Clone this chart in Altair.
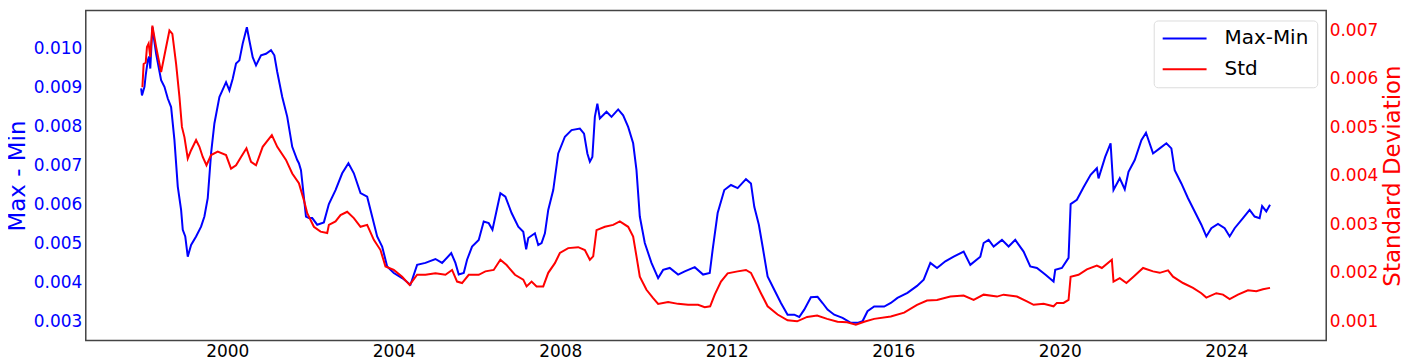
import altair as alt
import pandas as pd

# ---- data ----
maxmin_years = [1997.93, 1997.95, 1998.01, 1998.04, 1998.09, 1998.12, 1998.15, 1998.20, 1998.29, 1998.41,
                1998.49, 1998.57, 1998.65, 1998.73, 1998.81, 1998.89, 1998.93, 1998.99, 1999.05, 1999.13,
                1999.25, 1999.37, 1999.45, 1999.53, 1999.61, 1999.69, 1999.81, 1999.97, 2000.05, 2000.13,
                2000.21, 2000.29, 2000.37, 2000.47, 2000.53, 2000.61, 2000.69, 2000.81, 2000.93, 2001.05,
                2001.13, 2001.20, 2001.32, 2001.44, 2001.56, 2001.68, 2001.72, 2001.77, 2001.89, 2001.96,
                2002.04, 2002.16, 2002.32, 2002.44, 2002.60, 2002.76, 2002.91, 2003.04, 2003.20, 2003.36,
                2003.48, 2003.60, 2003.72, 2003.84, 2004.00, 2004.20, 2004.40, 2004.56, 2004.76, 2005.00,
                2005.16, 2005.38, 2005.48, 2005.56, 2005.68, 2005.76, 2005.88, 2006.04, 2006.16, 2006.28,
                2006.37, 2006.56, 2006.68, 2006.83, 2006.99, 2007.11, 2007.18, 2007.23, 2007.39, 2007.47,
                2007.55, 2007.63, 2007.71, 2007.83, 2007.95, 2008.11, 2008.27, 2008.47, 2008.57, 2008.65,
                2008.71, 2008.77, 2008.83, 2008.89, 2008.95, 2009.11, 2009.23, 2009.39, 2009.51, 2009.63,
                2009.75, 2009.83, 2009.91, 2010.03, 2010.19, 2010.35, 2010.47, 2010.63, 2010.83, 2010.99,
                2011.23, 2011.43, 2011.59, 2011.66, 2011.78, 2011.94, 2012.10, 2012.26, 2012.46, 2012.58,
                2012.66, 2012.77, 2012.86, 2012.98, 2013.14, 2013.30, 2013.46, 2013.62, 2013.74, 2013.86,
                2014.02, 2014.18, 2014.30, 2014.42, 2014.58, 2014.78, 2014.98, 2015.14, 2015.26, 2015.38,
                2015.54, 2015.78, 2015.94, 2016.10, 2016.34, 2016.57, 2016.73, 2016.89, 2017.05, 2017.25,
                2017.45, 2017.69, 2017.85, 2018.09, 2018.17, 2018.29, 2018.41, 2018.61, 2018.77, 2018.93,
                2019.13, 2019.29, 2019.45, 2019.65, 2019.85, 2019.89, 2020.05, 2020.21, 2020.26, 2020.41,
                2020.57, 2020.74, 2020.89, 2020.93, 2021.09, 2021.22, 2021.29, 2021.44, 2021.56, 2021.65,
                2021.80, 2021.96, 2022.07, 2022.24, 2022.40, 2022.56, 2022.68, 2022.76, 2022.92, 2023.08,
                2023.24, 2023.40, 2023.52, 2023.64, 2023.80, 2023.96, 2024.08, 2024.20, 2024.40, 2024.56,
                2024.68, 2024.80, 2024.86, 2024.96, 2025.05]
maxmin_values = [0.00898, 0.00880, 0.00902, 0.00932, 0.00970, 0.00980, 0.00949, 0.01055, 0.00987, 0.00919,
                 0.00902, 0.00872, 0.00850, 0.00765, 0.00646, 0.00586, 0.00535, 0.00518, 0.00466, 0.00496,
                 0.00518, 0.00543, 0.00569, 0.00616, 0.00731, 0.00808, 0.00876, 0.00914, 0.00893, 0.00923,
                 0.00962, 0.00970, 0.01013, 0.01055, 0.01021, 0.00978, 0.00957, 0.00983, 0.00987, 0.00996,
                 0.00983, 0.00940, 0.00876, 0.00825, 0.00748, 0.00714, 0.00706, 0.00688, 0.00569, 0.00565,
                 0.00565, 0.00548, 0.00554, 0.00601, 0.00637, 0.00680, 0.00706, 0.00680, 0.00629, 0.00620,
                 0.00569, 0.00518, 0.00492, 0.00441, 0.00424, 0.00411, 0.00394, 0.00445, 0.00450, 0.00460,
                 0.00450, 0.00475, 0.00450, 0.00420, 0.00424, 0.00458, 0.00492, 0.00509, 0.00556, 0.00552,
                 0.00535, 0.00629, 0.00620, 0.00578, 0.00543, 0.00530, 0.00485, 0.00514, 0.00526, 0.00496,
                 0.00501, 0.00526, 0.00586, 0.00637, 0.00731, 0.00774, 0.00791, 0.00795, 0.00782, 0.00731,
                 0.00710, 0.00722, 0.00825, 0.00859, 0.00821, 0.00838, 0.00825, 0.00844, 0.00829, 0.00799,
                 0.00757, 0.00688, 0.00569, 0.00501, 0.00450, 0.00411, 0.00432, 0.00437, 0.00420, 0.00428,
                 0.00439, 0.00420, 0.00424, 0.00484, 0.00578, 0.00637, 0.00650, 0.00642, 0.00665, 0.00654,
                 0.00594, 0.00548, 0.00492, 0.00415, 0.00381, 0.00347, 0.00317, 0.00317, 0.00311, 0.00330,
                 0.00362, 0.00363, 0.00347, 0.00330, 0.00317, 0.00309, 0.00296, 0.00296, 0.00300, 0.00326,
                 0.00338, 0.00338, 0.00347, 0.00360, 0.00373, 0.00391, 0.00407, 0.00450, 0.00437, 0.00454,
                 0.00466, 0.00479, 0.00445, 0.00466, 0.00501, 0.00509, 0.00492, 0.00509, 0.00492, 0.00509,
                 0.00479, 0.00441, 0.00437, 0.00420, 0.00402, 0.00432, 0.00437, 0.00463, 0.00601, 0.00612,
                 0.00644, 0.00676, 0.00693, 0.00667, 0.00722, 0.00757, 0.00637, 0.00667, 0.00639, 0.00684,
                 0.00714, 0.00765, 0.00784, 0.00731, 0.00744, 0.00757, 0.00744, 0.00688, 0.00654, 0.00616,
                 0.00582, 0.00548, 0.00518, 0.00539, 0.00550, 0.00539, 0.00518, 0.00539, 0.00565, 0.00586,
                 0.00569, 0.00565, 0.00596, 0.00582, 0.00599]

std_years = [1997.96, 1997.99, 1998.04, 1998.07, 1998.11, 1998.15, 1998.20, 1998.29, 1998.41, 1998.53,
             1998.61, 1998.68, 1998.77, 1998.85, 1998.91, 1998.97, 1999.05, 1999.13, 1999.25, 1999.33,
             1999.41, 1999.50, 1999.61, 1999.77, 1999.97, 2000.09, 2000.21, 2000.33, 2000.46, 2000.57,
             2000.69, 2000.85, 2001.07, 2001.20, 2001.41, 2001.56, 2001.72, 2001.84, 2001.92, 2002.08,
             2002.24, 2002.40, 2002.44, 2002.60, 2002.72, 2002.88, 2003.04, 2003.20, 2003.36, 2003.52,
             2003.68, 2003.80, 2004.00, 2004.20, 2004.38, 2004.56, 2004.76, 2005.00, 2005.24, 2005.40,
             2005.52, 2005.64, 2005.80, 2006.04, 2006.20, 2006.40, 2006.56, 2006.71, 2006.91, 2007.11,
             2007.19, 2007.31, 2007.43, 2007.59, 2007.71, 2007.87, 2007.99, 2008.19, 2008.43, 2008.59,
             2008.71, 2008.79, 2008.87, 2009.07, 2009.27, 2009.43, 2009.63, 2009.75, 2009.83, 2009.91,
             2010.07, 2010.23, 2010.35, 2010.59, 2010.83, 2011.07, 2011.31, 2011.47, 2011.60, 2011.71,
             2011.86, 2012.02, 2012.26, 2012.46, 2012.58, 2012.66, 2012.82, 2012.98, 2013.22, 2013.46,
             2013.69, 2013.93, 2014.17, 2014.41, 2014.66, 2014.89, 2015.10, 2015.30, 2015.54, 2015.94,
             2016.26, 2016.57, 2016.81, 2017.05, 2017.37, 2017.69, 2017.93, 2018.17, 2018.49, 2018.65,
             2018.97, 2019.21, 2019.37, 2019.61, 2019.85, 2019.93, 2020.09, 2020.21, 2020.26, 2020.45,
             2020.65, 2020.89, 2021.01, 2021.25, 2021.29, 2021.44, 2021.60, 2021.77, 2022.00, 2022.24,
             2022.40, 2022.60, 2022.72, 2022.96, 2023.20, 2023.40, 2023.52, 2023.76, 2023.92, 2024.08,
             2024.28, 2024.52, 2024.72, 2024.88, 2025.05]
std_values = [0.00583, 0.00631, 0.00634, 0.00666, 0.00673, 0.00645, 0.00710, 0.00666, 0.00614, 0.00666,
              0.00700, 0.00693, 0.00631, 0.00563, 0.00501, 0.00480, 0.00436, 0.00453, 0.00474, 0.00460,
              0.00439, 0.00422, 0.00443, 0.00450, 0.00443, 0.00415, 0.00422, 0.00439, 0.00457, 0.00429,
              0.00422, 0.00460, 0.00484, 0.00460, 0.00433, 0.00405, 0.00385, 0.00350, 0.00323, 0.00295,
              0.00285, 0.00282, 0.00299, 0.00306, 0.00319, 0.00326, 0.00313, 0.00295, 0.00299, 0.00268,
              0.00247, 0.00213, 0.00206, 0.00192, 0.00175, 0.00196, 0.00196, 0.00199, 0.00196, 0.00206,
              0.00182, 0.00179, 0.00196, 0.00196, 0.00203, 0.00206, 0.00227, 0.00216, 0.00196, 0.00186,
              0.00172, 0.00182, 0.00172, 0.00172, 0.00200, 0.00220, 0.00241, 0.00251, 0.00253, 0.00247,
              0.00227, 0.00234, 0.00288, 0.00295, 0.00299, 0.00306, 0.00295, 0.00275, 0.00234, 0.00192,
              0.00165, 0.00148, 0.00136, 0.00140, 0.00136, 0.00134, 0.00134, 0.00129, 0.00131, 0.00155,
              0.00182, 0.00199, 0.00203, 0.00206, 0.00200, 0.00186, 0.00158, 0.00131, 0.00114, 0.00102,
              0.00100, 0.00109, 0.00112, 0.00105, 0.00099, 0.00098, 0.00093, 0.00099, 0.00105, 0.00110,
              0.00118, 0.00134, 0.00143, 0.00144, 0.00151, 0.00153, 0.00144, 0.00155, 0.00151, 0.00155,
              0.00151, 0.00141, 0.00134, 0.00136, 0.00131, 0.00138, 0.00138, 0.00144, 0.00192, 0.00196,
              0.00207, 0.00215, 0.00210, 0.00227, 0.00182, 0.00189, 0.00179, 0.00192, 0.00210, 0.00203,
              0.00200, 0.00205, 0.00192, 0.00179, 0.00169, 0.00158, 0.00149, 0.00158, 0.00155, 0.00146,
              0.00155, 0.00164, 0.00162, 0.00166, 0.00169]

series_names = ["Max-Min", "Std"]
series_colors = ["#0000ff", "#ff0000"]
x_ticks = [2000, 2004, 2008, 2012, 2016, 2020, 2024]
left_ticks = [0.003, 0.004, 0.005, 0.006, 0.007, 0.008, 0.009, 0.010]
right_ticks = [0.001, 0.002, 0.003, 0.004, 0.005, 0.006, 0.007]

df_mm = pd.DataFrame({"year": maxmin_years, "value": maxmin_values, "series": series_names[0]})
df_sd = pd.DataFrame({"year": std_years, "value": std_values, "series": series_names[1]})

FONT = "DejaVu Sans"
W, H = 1244, 331

x_enc = alt.X(
    "year:Q",
    scale=alt.Scale(domain=[1996.60, 2026.40], nice=False, zero=False),
    axis=alt.Axis(values=x_ticks, format="d", title=None, grid=False, domain=False, ticks=False,
                  labelFontSize=17, labelColor="#000000", labelPadding=3, labelFont=FONT),
)

color_enc = alt.Color(
    "series:N",
    scale=alt.Scale(domain=series_names, range=series_colors),
    legend=alt.Legend(orient="none", legendX=1071, legendY=10, title=None,
                      labelFontSize=20, labelColor="#000000", labelFont=FONT,
                      symbolType="stroke", symbolSize=1936, symbolStrokeWidth=2,
                      strokeColor="#dcdcdc", fillColor="white", padding=8, cornerRadius=4,
                      rowPadding=11, clipHeight=20, labelOffset=17),
)

mm = alt.Chart(df_mm).mark_line(strokeWidth=2).encode(
    x=x_enc,
    y=alt.Y("value:Q",
            scale=alt.Scale(domain=[0.002506, 0.01098], nice=False, zero=False),
            axis=alt.Axis(orient="left", values=left_ticks, format=".3f", grid=False, domain=False,
                          ticks=False, labelFontSize=17, labelColor="#0000ff", labelPadding=4,
                          labelFont=FONT, title="Max - Min", titleColor="#0000ff", titleFontSize=23,
                          titleFontWeight="normal", titleFont=FONT, titleAngle=270, titleX=-61,
                          titleY=H / 2, titleAlign="center", titleBaseline="alphabetic")),
    color=color_enc,
)

sd = alt.Chart(df_sd).mark_line(strokeWidth=2).encode(
    x=x_enc,
    y=alt.Y("value:Q",
            scale=alt.Scale(domain=[0.000603, 0.007412], nice=False, zero=False),
            axis=alt.Axis(orient="right", values=right_ticks, format=".3f", grid=False, domain=False,
                          ticks=False, labelFontSize=17, labelColor="#ff0000", labelPadding=3,
                          labelFont=FONT, title="Standard Deviation", titleColor="#ff0000",
                          titleFontSize=23, titleFontWeight="normal", titleFont=FONT, titleAngle=270,
                          titleX=73, titleY=H / 2, titleAlign="center", titleBaseline="alphabetic")),
    color=color_enc,
)

chart = (
    alt.layer(mm, sd)
    .resolve_scale(y="independent")
    .properties(width=W, height=H,
                padding={"left": 78, "top": 2, "right": 76, "bottom": 20},
                autosize=alt.AutoSizeParams(type="none"))
    .configure(font=FONT, background="white")
    .configure_view(stroke="#444444", strokeWidth=1.5)
)

chart.save("out.html", embed_options={"renderer": "svg", "actions": False})
